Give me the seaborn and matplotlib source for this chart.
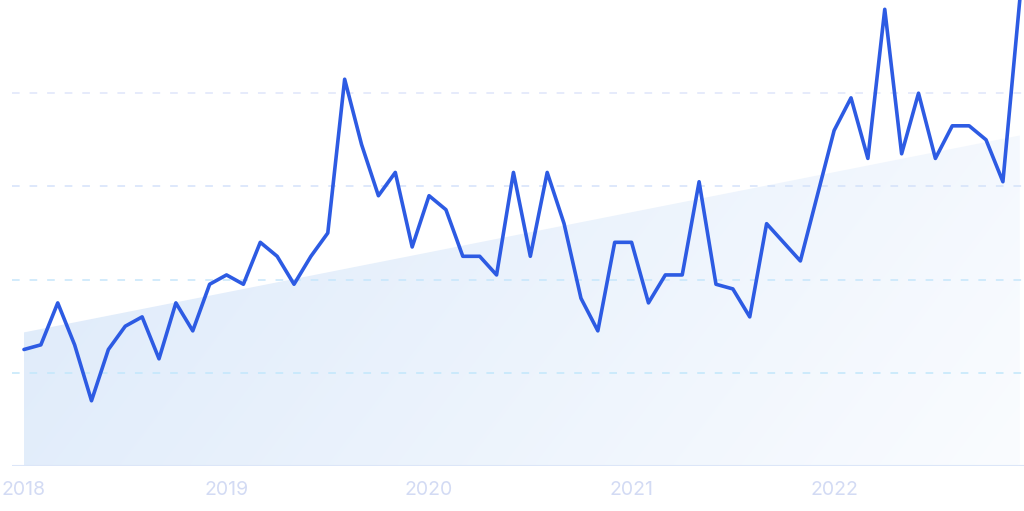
import numpy as np
import pandas as pd
import seaborn as sns
import matplotlib.pyplot as plt
from matplotlib.patches import Polygon

# Monthly interest, Jan 2018 - Dec 2022 (scaled 0-100)
years = ['2018', '2019', '2020', '2021', '2022']
values = [25, 26, 35, 26, 14, 25, 30, 32, 23, 35, 29, 39,
          41, 39, 48, 45, 39, 45, 50, 83, 69, 58, 63, 47,
          58, 55, 45, 45, 41, 63, 45, 63, 52, 36, 29, 48,
          48, 35, 41, 41, 61, 39, 38, 32, 52, 48, 44, 58,
          72, 79, 66, 98, 67, 80, 66, 73, 73, 70, 61, 100]
grid_levels = [20, 40, 60, 80]
grid_colors = ['#c2e7fb', '#c6e6fb', '#d4e2fa', '#dfe5fa']

df = pd.DataFrame({'month': np.arange(len(values)), 'interest': values})

# trend line under the series
slope, intercept = np.polyfit(df['month'], df['interest'], 1)
x0, x1 = df['month'].iloc[0], df['month'].iloc[-1]
t0, t1 = intercept + slope * x0, intercept + slope * x1

sns.set_style('white')

fig = plt.figure(figsize=(10.24, 5.11), dpi=100)
ax = fig.add_axes([12 / 1024, 45 / 511, 1 - 12 / 1024, 466 / 511])

# gradient-filled trend area
poly = Polygon([(x0, 0), (x0, t0), (x1, t1), (x1, 0)], closed=True,
               facecolor='none', edgecolor='none')
ax.add_patch(poly)
gx, gy = np.meshgrid(np.linspace(0, 1, 256), np.linspace(0, 1, 64))
grad = np.clip(0.8 * gx + 0.2 * gy, 0, 1)
c_start = np.array([0xdd, 0xea, 0xfa]) / 255
c_end = np.array([0xfa, 0xfc, 0xff]) / 255
img = c_start[None, None, :] * (1 - grad[..., None]) + c_end[None, None, :] * grad[..., None]
im = ax.imshow(img, extent=[x0, x1, 0, max(t0, t1)], origin='upper',
               aspect='auto', zorder=1, interpolation='bilinear')
im.set_clip_path(poly)

for lvl, col in zip(grid_levels, grid_colors):
    ax.axhline(lvl, color=col, lw=1.1, dashes=(5, 6.5), zorder=2)
ax.axhline(0, color='#dce6f8', lw=1.5, zorder=2)

sns.lineplot(data=df, x='month', y='interest', ax=ax, color='#2d5be3',
             lw=2.6, zorder=3, clip_on=False)

ax.set_xlim(-0.71, 59.25)
ax.set_ylim(0, 100)
ax.set_xticks([12 * k for k in range(len(years))])
ax.set_xticklabels(years, fontsize=14, color='#d3dbf4', family='Inter')
ax.tick_params(axis='x', length=0, pad=11)
ax.set_yticks([])
ax.set_xlabel('')
ax.set_ylabel('')
sns.despine(ax=ax, left=True, bottom=True)

plt.savefig('out.png', dpi=100)
plt.close()
